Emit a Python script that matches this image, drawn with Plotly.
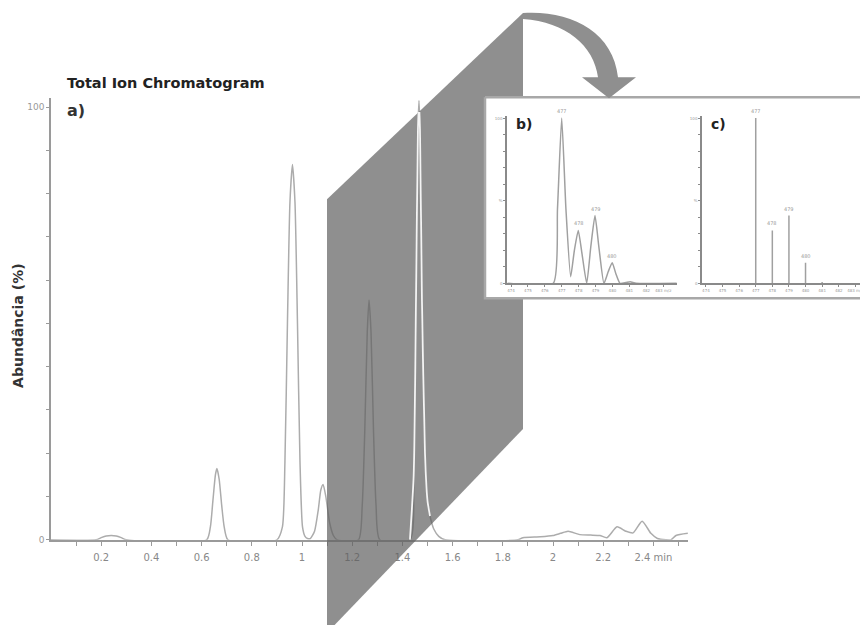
import plotly.graph_objects as go

W, H = 868, 630
OFF = 8                      # page body margin of the exported html
FW, FH = W - OFF, H - OFF    # figure size so the figure fills the window

# ---------------- data ----------------
# Total ion chromatogram (retention time in min, abundance in %)
tic_time = [0.00, 0.18, 0.20, 0.22, 0.24, 0.26, 0.28, 0.30, 0.62, 0.635, 0.645, 0.655, 0.661, 0.67, 0.68,
            0.69, 0.705, 0.90, 0.922, 0.932, 0.942, 0.952, 0.962, 0.972, 0.982, 0.992, 1.002, 1.012,
            1.022, 1.033, 1.05, 1.065, 1.075, 1.084, 1.095, 1.11, 1.125, 1.14, 1.225, 1.24, 1.25,
            1.26, 1.267, 1.275, 1.285, 1.295, 1.31, 1.43, 1.445, 1.455, 1.462, 1.466, 1.47, 1.478,
            1.49, 1.50, 1.51, 1.525, 1.545, 1.57, 1.86, 1.88, 1.95, 2.00, 2.03, 2.06, 2.107, 2.15,
            2.187, 2.215, 2.255, 2.29, 2.319, 2.355, 2.39, 2.416, 2.45, 2.47, 2.49, 2.537]
tic_abund = [0, 0, 0.5, 0.9, 1.0, 0.9, 0.5, 0, 0, 3, 9, 15, 16.5, 14, 8,
             3, 0, 0, 3, 18, 50, 78, 86.7, 78, 50, 18, 3,
             0.8, 0.3, 0.3, 2, 7, 11.5, 12.8, 10, 4, 1, 0, 0, 8, 25,
             48, 55.4, 48, 25, 8, 0, 0, 15, 60, 95, 101.5, 95, 55,
             20, 9, 5.5, 2.5, 0.8, 0, 0, 0.5, 0.7, 1.0, 1.5, 2.0, 1.2, 1.1,
             1.0, 0.5, 3.0, 2.0, 1.6, 4.3, 1.5, 0.3, 0, 0, 1.0, 1.5]

# isolated peak region that is drawn over the highlighted slab
hl_start, hl_end = 1.43, 1.51

tic_xticks = [round(0.1 * i, 1) for i in range(1, 26)]
tic_xlabels = {0.2: "0.2", 0.4: "0.4", 0.6: "0.6", 0.8: "0.8", 1.0: "1", 1.2: "1.2", 1.4: "1.4",
               1.6: "1.6", 1.8: "1.8", 2.0: "2", 2.2: "2.2", 2.4: "2.4 min"}
tic_yticks = list(range(0, 101, 10))
tic_ylabels = {0: "0", 100: "100"}

# mass spectrum b) (profile)
mz_profile = [473.8, 476.5, 476.75, 477.0, 477.25, 477.53, 477.75, 477.98, 478.2, 478.48, 478.72,
              478.97, 479.2, 479.5, 479.75, 479.99, 480.2, 480.45, 480.8, 481.05, 481.4, 483.8]
int_profile = [0, 0, 45, 100, 45, 4, 20, 32, 18, 0, 22,
               41, 22, 0, 7, 12.5, 6, 0, 0.5, 1, 0, 0]

# mass spectrum c) (centroid)
mz_centroid = [477, 478, 479, 480, 481]
int_centroid = [100, 32, 41, 12.5, 0.8]

peak_labels_mz = [477, 478, 479, 480]
peak_labels_int = [100, 32, 41, 12.5]

ms_xticks = list(range(474, 484))
ms_xlabels = [str(v) for v in ms_xticks[:-1]] + ["483 m/z"]
ms_yticks = list(range(0, 101, 10))
ms_ylabels = {0: "0", 50: "%", 100: "100"}

# ---------------- helpers (reference pixel -> paper) ----------------
def pxx(x):
    return (x - OFF) / FW

def pxy(y):
    return 1 - (y - OFF) / FH

LINE = "#acacac"
AX = "#9a9a9a"
SLAB = "rgba(95,95,95,0.7)"
SLAB_SOLID = "#8f8f8f"

fig = go.Figure()

# main chromatogram (subplot 1)
fig.add_trace(go.Scatter(x=tic_time, y=tic_abund, mode="lines", xaxis="x", yaxis="y",
                         line=dict(color=LINE, width=1.5, shape="spline", smoothing=0.6),
                         hoverinfo="skip", showlegend=False))

# overlay canvas (subplot 2): slab and inset frame
slab_x = [327, 523, 523, 327, 327]
slab_y = [200, 12, 432, 638, 200]
fig.add_trace(go.Scatter(x=slab_x, y=slab_y, mode="lines", fill="toself", fillcolor=SLAB,
                         line=dict(width=0), xaxis="x2", yaxis="y2", hoverinfo="skip",
                         showlegend=False))
box_x = [485, 880, 880, 485, 485]
box_y = [97, 97, 300, 300, 97]
fig.add_trace(go.Scatter(x=box_x, y=box_y, mode="lines", fill="toself", fillcolor="white",
                         line=dict(color="#a8a8a8", width=2.5), xaxis="x2", yaxis="y2",
                         hoverinfo="skip", showlegend=False))

# highlighted peak drawn over the slab (subplot 3, same scale as main)
hx = [t for t in tic_time if hl_start <= t <= hl_end]
hy = [a for t, a in zip(tic_time, tic_abund) if hl_start <= t <= hl_end]
fig.add_trace(go.Scatter(x=hx, y=hy, mode="lines", xaxis="x3", yaxis="y3",
                         line=dict(color="#f4f4f4", width=1.8, shape="spline", smoothing=0.6),
                         hoverinfo="skip", showlegend=False))

# inset b) profile spectrum
fig.add_trace(go.Scatter(x=mz_profile, y=int_profile, mode="lines", xaxis="x4", yaxis="y4",
                         line=dict(color="#a0a0a0", width=1.5, shape="spline", smoothing=0.5),
                         hoverinfo="skip", showlegend=False))

# inset c) centroid spectrum (sticks)
sx, sy = [], []
for m, i in zip(mz_centroid, int_centroid):
    sx += [m, m, None]
    sy += [0, i, None]
fig.add_trace(go.Scatter(x=sx, y=sy, mode="lines", xaxis="x5", yaxis="y5",
                         line=dict(color="#a0a0a0", width=1.5),
                         hoverinfo="skip", showlegend=False))

# ---------------- axes ----------------
x0_px, x_scale = 51, 251.0
y0_px, y_scale = 544, 4.37

main_x = dict(domain=[pxx(51), pxx(688)], range=[0, (688 - x0_px) / x_scale], anchor="y",
              showline=True, linecolor=AX, linewidth=1.5, ticks="outside", ticklen=4,
              tickcolor=AX, tickwidth=1.2, tickmode="array", tickvals=tic_xticks,
              ticktext=[tic_xlabels.get(v, "") for v in tic_xticks], ticklabelstandoff=3,
              tickfont=dict(family="DejaVu Sans", size=10, color="#888"),
              showgrid=False, zeroline=False, fixedrange=True)
main_y = dict(domain=[pxy(544), pxy(98)], range=[0, (544 - 98) / y_scale], anchor="x",
              showline=True, linecolor=AX, linewidth=1.5, ticks="outside", ticklen=3,
              tickcolor=AX, tickwidth=1.2, tickmode="array", tickvals=tic_yticks,
              ticktext=[tic_ylabels.get(v, "") for v in tic_yticks],
              tickfont=dict(family="DejaVu Sans", size=9, color="#999"),
              showgrid=False, zeroline=False, fixedrange=True)

canvas_x = dict(domain=[0, 1], range=[OFF, W], anchor="y2", visible=False, fixedrange=True)
canvas_y = dict(domain=[0, 1], range=[H, OFF], anchor="x2", visible=False, fixedrange=True)

hl_right_px = 433
ov_x = dict(domain=[pxx(51), pxx(hl_right_px)], range=[0, (hl_right_px - x0_px) / x_scale],
            anchor="y3", visible=False, fixedrange=True)
ov_y = dict(domain=[pxy(544), pxy(112)], range=[0, (544 - 112) / y_scale], anchor="x3",
            visible=False, fixedrange=True)


def ms_axes(xa, ya, left_px, right_px, ms_scale):
    xmin = 477 - (561.7 - 507) / 16.9
    xd = dict(domain=[pxx(left_px), pxx(right_px)],
              range=[xmin, xmin + (right_px - left_px) / ms_scale], anchor=ya,
              showline=True, linecolor="#8a8a8a", linewidth=1.5, ticks="outside", ticklen=2,
              tickcolor="#8a8a8a", tickmode="array", tickvals=ms_xticks, ticktext=ms_xlabels,
              tickfont=dict(family="DejaVu Sans", size=4, color="#999"),
              showgrid=False, zeroline=False, fixedrange=True)
    yd = dict(domain=[pxy(285), pxy(116.5)], range=[0, 101], anchor=xa,
              showline=True, linecolor="#8a8a8a", linewidth=1.5, ticks="outside", ticklen=2,
              tickcolor="#8a8a8a", tickmode="array", tickvals=ms_yticks,
              ticktext=[ms_ylabels.get(v, "") for v in ms_yticks],
              tickfont=dict(family="DejaVu Sans", size=4, color="#999"),
              showgrid=False, zeroline=False, fixedrange=True)
    return xd, yd


b_x, b_y = ms_axes("x4", "y4", 507, 677, 16.9)
c_x, c_y = ms_axes("x5", "y5", 702, 868, 16.6)

fig.update_layout(
    width=FW, height=FH, margin=dict(l=0, r=0, t=0, b=0),
    paper_bgcolor="white", plot_bgcolor="rgba(0,0,0,0)",
    xaxis=main_x, yaxis=main_y,
    xaxis2=canvas_x, yaxis2=canvas_y,
    xaxis3=ov_x, yaxis3=ov_y,
    xaxis4=b_x, yaxis4=b_y,
    xaxis5=c_x, yaxis5=c_y,
    showlegend=False,
)

# curved arrow from slab to inset
arrow_path = ("M 523,12 C 570,9 613,30 618,77 L 636,77 L 609,98 L 582,77 L 598,77 "
              "C 594,45 566,21 523,18 Z")
fig.add_shape(type="path", path=arrow_path, xref="x2", yref="y2", fillcolor=SLAB_SOLID,
              line=dict(width=0), layer="above")

# ---------------- text ----------------
fig.add_annotation(text="<b>Total Ion Chromatogram</b>", x=pxx(65), y=pxy(83), xref="paper",
                   yref="paper", xanchor="left", yanchor="middle", showarrow=False,
                   font=dict(family="DejaVu Sans", size=14.5, color="#222"))
fig.add_annotation(text="<b>a)</b>", x=pxx(65), y=pxy(110), xref="paper", yref="paper",
                   xanchor="left", yanchor="middle", showarrow=False,
                   font=dict(family="DejaVu Sans", size=16, color="#333"))
fig.add_annotation(text="<b>Abundância (%)</b>", x=pxx(18), y=pxy(328), xref="paper",
                   yref="paper", xanchor="center", yanchor="middle", textangle=-90,
                   showarrow=False, font=dict(family="DejaVu Sans", size=14, color="#333"))
fig.add_annotation(text="<b>b)</b>", x=pxx(514), y=pxy(124), xref="paper", yref="paper",
                   xanchor="left", yanchor="middle", showarrow=False,
                   font=dict(family="DejaVu Sans", size=14, color="#222"))
fig.add_annotation(text="<b>c)</b>", x=pxx(709), y=pxy(124), xref="paper", yref="paper",
                   xanchor="left", yanchor="middle", showarrow=False,
                   font=dict(family="DejaVu Sans", size=14, color="#222"))

for xa, ya in (("x4", "y4"), ("x5", "y5")):
    for m, i in zip(peak_labels_mz, peak_labels_int):
        fig.add_annotation(text=str(m), x=m, y=i, xref=xa, yref=ya, xanchor="center",
                           yanchor="bottom", yshift=2, showarrow=False,
                           font=dict(family="DejaVu Sans", size=5, color="#999"))

fig.write_html("out.html")
